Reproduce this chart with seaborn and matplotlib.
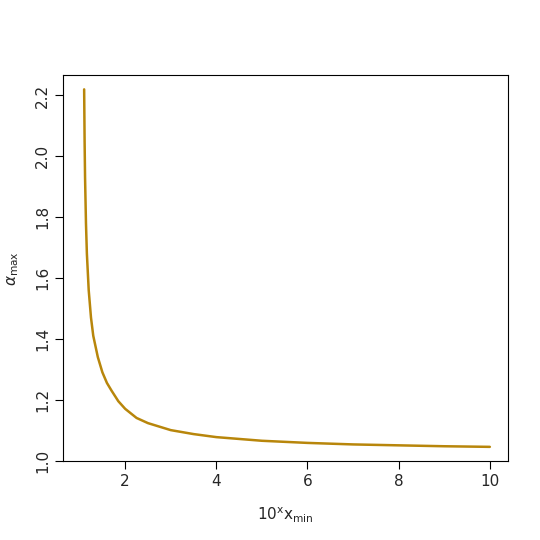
import matplotlib
matplotlib.use("Agg")
import matplotlib.pyplot as plt
import seaborn as sns
import pandas as pd

x_vals = [1.1, 1.11, 1.12, 1.14, 1.16, 1.2, 1.25, 1.3, 1.4, 1.5, 1.6, 1.7, 1.85, 2.0, 2.25, 2.5, 3.0, 3.5, 4.0, 5.0, 6.0, 7.0, 8.0, 9.0, 10.0]
y_vals = [2.22, 2.05, 1.93, 1.78, 1.68, 1.56, 1.47, 1.41, 1.34, 1.29, 1.255, 1.23, 1.195, 1.17, 1.14, 1.123, 1.10, 1.087, 1.077, 1.065, 1.058, 1.053, 1.05, 1.047, 1.045]

df = pd.DataFrame({"x": x_vals, "y": y_vals})
sns.set_style("ticks")
plt.rcParams['font.family'] = ['DejaVu Sans']
fig = plt.figure(figsize=(5.4, 5.4), dpi=100)
ax = fig.add_axes([0.117, 0.146, 0.823, 0.715])
sns.lineplot(data=df, x="x", y="y", ax=ax, color="#B8860B", linewidth=1.8)
ax.set_xlim(0.64, 10.39)
ax.set_ylim(0.998, 2.267)
ax.set_xticks([2, 4, 6, 8, 10])
ax.set_yticks([1.0, 1.2, 1.4, 1.6, 1.8, 2.0, 2.2])
ax.set_yticklabels(["1.0", "1.2", "1.4", "1.6", "1.8", "2.0", "2.2"], rotation=90, va="center")
for s in ax.spines.values():
    s.set_visible(True); s.set_color("black")
ax.tick_params(direction="out", length=6, color="black", labelsize=11)
ax.set_xlabel(r"$10^{\mathrm{x}}\mathrm{x}_{\mathrm{min}}$", fontsize=11, labelpad=12)
ax.set_ylabel(r"$\alpha_{\mathrm{max}}$", fontsize=11, labelpad=10)
fig.savefig("out.png", dpi=100)
